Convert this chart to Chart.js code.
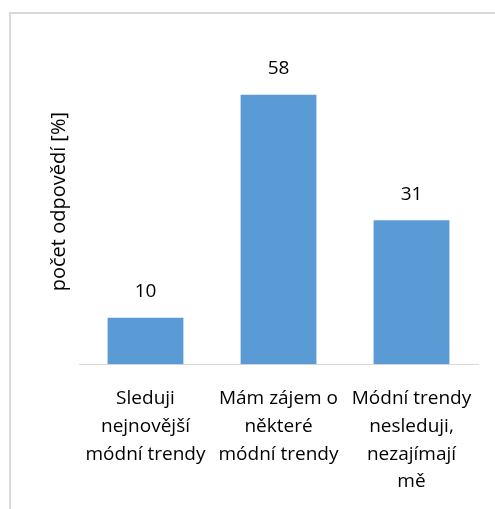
<!DOCTYPE html>
<html>
<head>
<meta charset="utf-8">
<script src="https://cdn.jsdelivr.net/npm/chart.js@4/dist/chart.umd.min.js"></script>
<style>
  html, body { margin: 0; padding: 0; background: #fff; overflow: hidden; }
  #ramecek { position: absolute; left: 9px; top: 12px; width: 500px; height: 510px; border: 2px solid #d9d9d9; box-sizing: border-box; }
  #obal { position: absolute; left: 0; top: 0; width: 495px; height: 508px; }
</style>
</head>
<body>
<div id="ramecek"></div>
<div id="obal"><canvas id="graf"></canvas></div>
<script>
const kategorie = [
  ['Sleduji', 'nejnovější', 'módní trendy'],
  ['Mám zájem o', 'některé', 'módní trendy'],
  ['Módní trendy', 'nesleduji,', 'nezajímají', 'mě']
];
const hodnoty = [10, 58, 31];
const popisekOsy = 'počet odpovědí [%]';

const pismo = "'Open Sans', sans-serif";

// hodnoty nad sloupci
const popiskyHodnot = {
  id: 'popiskyHodnot',
  afterDatasetsDraw(chart) {
    const ctx = chart.ctx;
    const meta = chart.getDatasetMeta(0);
    ctx.save();
    ctx.font = '19px ' + pismo;
    ctx.fillStyle = '#000';
    ctx.textAlign = 'center';
    ctx.textBaseline = 'middle';
    meta.data.forEach((bar, i) => {
      ctx.fillText(String(hodnoty[i]), bar.x, bar.y - 26);
    });
    ctx.restore();
  }
};

new Chart(document.getElementById('graf'), {
  type: 'bar',
  data: {
    labels: kategorie,
    datasets: [{
      data: hodnoty,
      backgroundColor: '#5b9bd5',
      borderWidth: 0,
      categoryPercentage: 1,
      barPercentage: 0.57
    }]
  },
  options: {
    responsive: true,
    maintainAspectRatio: false,
    animation: false,
    layout: { padding: { left: 45, right: 17, top: 39, bottom: 0 } },
    plugins: { legend: { display: false }, tooltip: { enabled: false } },
    scales: {
      x: {
        grid: { display: false },
        border: { display: true, color: '#d9d9d9', width: 1 },
        ticks: {
          color: '#000',
          font: { family: pismo, size: 19, lineHeight: 1.47 },
          maxRotation: 0,
          autoSkip: false,
          padding: 12
        }
      },
      y: {
        min: 0,
        max: 70,
        grid: { display: false },
        border: { display: false },
        ticks: { display: false },
        title: {
          display: true,
          text: popisekOsy,
          color: '#000',
          font: { family: pismo, size: 20 },
          padding: { top: 2, bottom: 0 }
        }
      }
    }
  },
  plugins: [popiskyHodnot]
});
</script>
</body>
</html>
